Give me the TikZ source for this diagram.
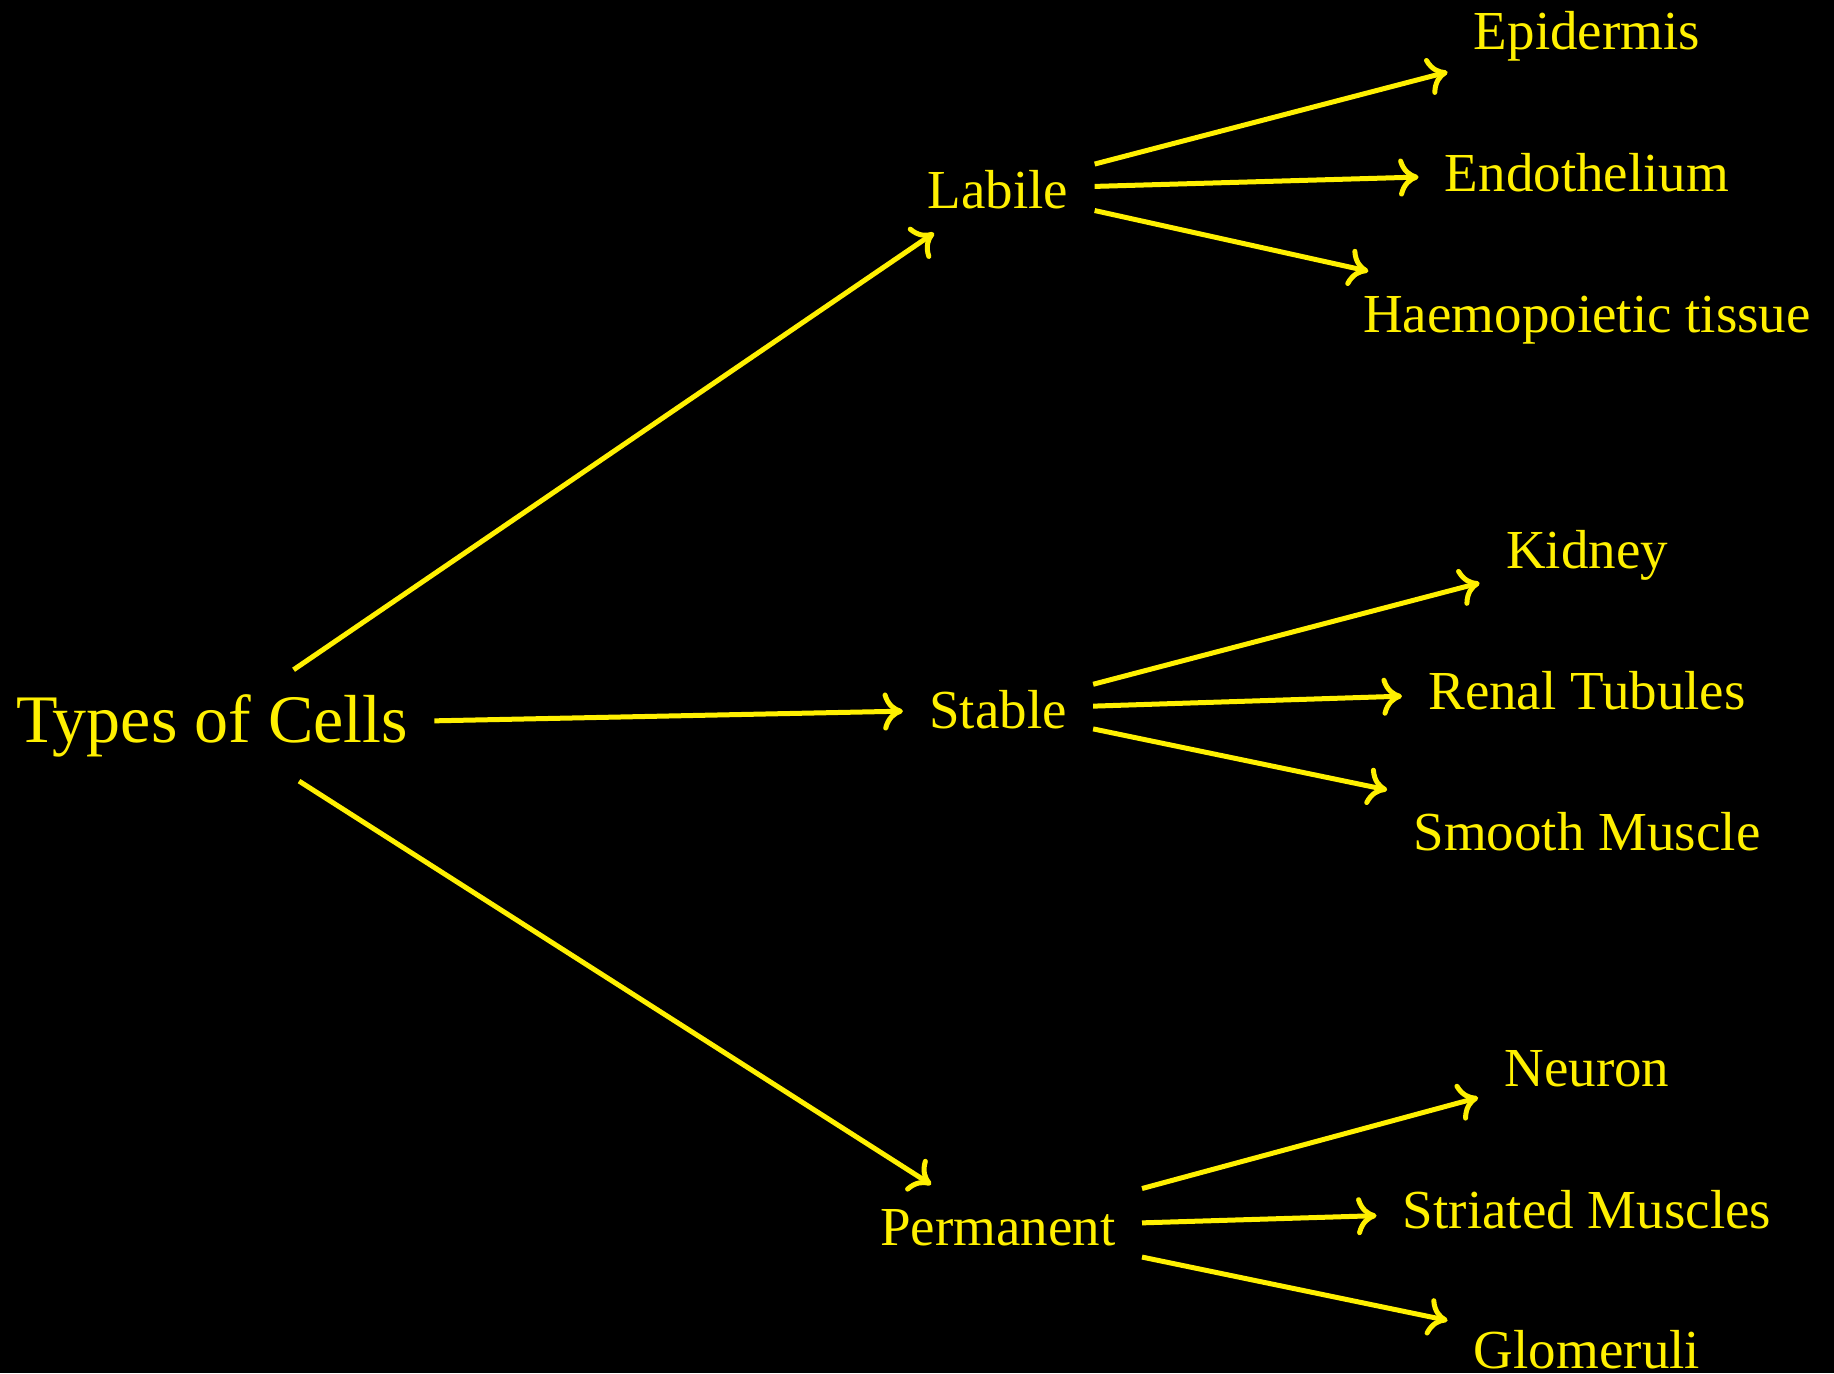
\documentclass[tikz,border=0pt]{standalone}
\usepackage{fontspec}
\setmainfont{Liberation Serif}
\usetikzlibrary{arrows.meta}
\definecolor{cellyellow}{RGB}{255,240,0}

\begin{document}
\begin{tikzpicture}[x=0.5pt,y=-0.5pt,>={Computer Modern Rightarrow[length=10pt,width=19pt]},
  every node/.style={text=cellyellow,inner xsep=13pt,inner ysep=12pt,anchor=base},
  rootlabel/.style={font=\fontsize{34}{40}\selectfont},
  celllabel/.style={font=\fontsize{27.5}{33}\selectfont},
  link/.style={->,draw=cellyellow,line width=2.5pt}]
  \useasboundingbox (0,0) rectangle (1834,1373);
  \fill[black] (0,0) rectangle (1834,1373);
  % root and the three kinds
  \node[rootlabel] (types) at (212,742) {Types of Cells};
  \node[celllabel] (labile) at (998,208) {Labile};
  \node[celllabel] (stable) at (998,728) {Stable};
  \node[celllabel] (perm) at (998,1245) {Permanent};
  % tissues
  \node[celllabel] (epi) at (1587,49) {Epidermis};
  \node[celllabel] (endo) at (1587,191) {Endothelium};
  \node[celllabel] (haemo) at (1587,332) {Haemopoietic tissue};
  \node[celllabel] (kidney) at (1587,568) {Kidney};
  \node[celllabel] (renal) at (1587,709) {Renal Tubules};
  \node[celllabel] (smooth) at (1587,850) {Smooth Muscle};
  \node[celllabel] (neuron) at (1587,1086) {Neuron};
  \node[celllabel] (striated) at (1587,1228) {Striated Muscles};
  \node[celllabel] (glom) at (1587,1368) {Glomeruli};
  % arrows
  \draw[link] (types) -- (labile);
  \draw[link] (types) -- (stable);
  \draw[link] (types) -- (perm);
  \draw[link] (labile) -- (epi);
  \draw[link] (labile) -- (endo);
  \draw[link] (labile) -- (haemo);
  \draw[link] (stable) -- (kidney);
  \draw[link] (stable) -- (renal);
  \draw[link] (stable) -- (smooth);
  \draw[link] (perm) -- (neuron);
  \draw[link] (perm) -- (striated);
  \draw[link] (perm) -- (glom);
\end{tikzpicture}
\end{document}
